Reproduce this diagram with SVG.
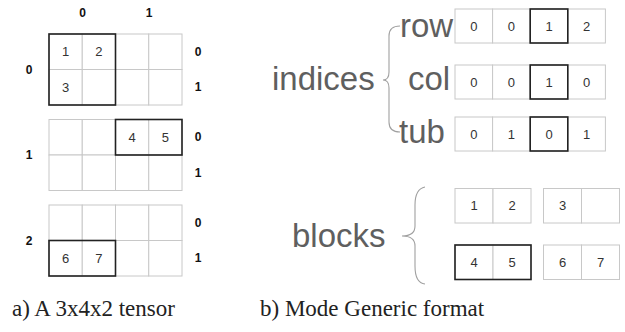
<svg xmlns="http://www.w3.org/2000/svg" width="625" height="332" viewBox="0 0 625 332">
<style>
.c{fill:#fff;stroke:#c8c8c8;stroke-width:1}
.b{fill:none;stroke:#222;stroke-width:1.6}
.d{font-family:"Liberation Sans",Arial,sans-serif;font-size:13px;fill:#333;text-anchor:middle;dominant-baseline:central}
.l{font-family:"Liberation Sans",Arial,sans-serif;font-size:12px;font-weight:bold;fill:#111;text-anchor:middle;dominant-baseline:central}
.t{font-family:"Liberation Sans",Arial,sans-serif;font-size:33px;fill:#5f5f5f}
.cap{font-family:"Liberation Serif","Times New Roman",serif;font-size:23px;fill:#222}
.br{fill:none;stroke:#a0a0a0;stroke-width:1.1}
</style>
<rect width="625" height="332" fill="#fff"/>
<defs>
<g id="grid">
<rect class="c" x="49" y="0" width="33.25" height="35.5"/>
<rect class="c" x="82.25" y="0" width="33.25" height="35.5"/>
<rect class="c" x="115.5" y="0" width="33.25" height="35.5"/>
<rect class="c" x="148.75" y="0" width="33.25" height="35.5"/>
<rect class="c" x="49" y="35.5" width="33.25" height="35.5"/>
<rect class="c" x="82.25" y="35.5" width="33.25" height="35.5"/>
<rect class="c" x="115.5" y="35.5" width="33.25" height="35.5"/>
<rect class="c" x="148.75" y="35.5" width="33.25" height="35.5"/>
</g>
<g id="arr">
<rect class="c" x="455" y="0" width="37.6" height="34"/>
<rect class="c" x="492.6" y="0" width="37.6" height="34"/>
<rect class="c" x="530.2" y="0" width="37.6" height="34"/>
<rect class="c" x="567.8" y="0" width="37.6" height="34"/>
<rect class="b" x="530.2" y="0" width="37.6" height="34"/>
</g>
<g id="blk">
<rect class="c" x="0" y="0" width="38" height="34.5"/>
<rect class="c" x="38" y="0" width="38" height="34.5"/>
</g>
</defs>

<g id="axis-labels">
<text class="l" x="82.5" y="13">0</text>
<text class="l" x="149" y="13">1</text>
</g>

<g id="slice0">
<use href="#grid" y="34"/>
<rect class="b" x="49" y="34" width="66.5" height="71"/>
<text class="d" x="65.6" y="51.75">1</text>
<text class="d" x="98.9" y="51.75">2</text>
<text class="d" x="65.6" y="87.25">3</text>
<text class="l" x="29" y="69.5">0</text>
<text class="l" x="198" y="51.75">0</text>
<text class="l" x="198" y="87.25">1</text>
</g>

<g id="slice1">
<use href="#grid" y="119.5"/>
<rect class="b" x="115.5" y="119.5" width="66.5" height="35.5"/>
<text class="d" x="132.1" y="137.25">4</text>
<text class="d" x="165.4" y="137.25">5</text>
<text class="l" x="29" y="155">1</text>
<text class="l" x="198" y="137.25">0</text>
<text class="l" x="198" y="172.75">1</text>
</g>

<g id="slice2">
<use href="#grid" y="205"/>
<rect class="b" x="49" y="240.5" width="66.5" height="35.5"/>
<text class="d" x="65.6" y="258.25">6</text>
<text class="d" x="98.9" y="258.25">7</text>
<text class="l" x="29" y="240.5">2</text>
<text class="l" x="198" y="222.75">0</text>
<text class="l" x="198" y="258.25">1</text>
</g>

<g id="indices">
<text class="t" x="272" y="90">indices</text>
</g>

<g id="row">
<text class="t" x="400" y="36.5">row</text>
<use href="#arr" y="9"/>
<text class="d" x="473.8" y="26">0</text>
<text class="d" x="511.4" y="26">0</text>
<text class="d" x="549" y="26">1</text>
<text class="d" x="586.6" y="26">2</text>
</g>

<g id="col">
<text class="t" x="408" y="90">col</text>
<use href="#arr" y="65"/>
<text class="d" x="473.8" y="82">0</text>
<text class="d" x="511.4" y="82">0</text>
<text class="d" x="549" y="82">1</text>
<text class="d" x="586.6" y="82">0</text>
</g>

<g id="tub">
<text class="t" x="399" y="142.5">tub</text>
<use href="#arr" y="117"/>
<text class="d" x="473.8" y="134">0</text>
<text class="d" x="511.4" y="134">1</text>
<text class="d" x="549" y="134">0</text>
<text class="d" x="586.6" y="134">1</text>
</g>

<g id="blocks">
<text class="t" x="292" y="247">blocks</text>
</g>

<g id="block0">
<use href="#blk" x="455" y="188.5"/>
<text class="d" x="474" y="205.75">1</text>
<text class="d" x="512" y="205.75">2</text>
</g>
<g id="block1">
<use href="#blk" x="543.5" y="188.5"/>
<text class="d" x="562.5" y="205.75">3</text>
</g>
<g id="block2">
<use href="#blk" x="455" y="245"/>
<rect class="b" x="455" y="245" width="76" height="34.5"/>
<text class="d" x="474" y="262.25">4</text>
<text class="d" x="512" y="262.25">5</text>
</g>
<g id="block3">
<use href="#blk" x="543.5" y="245"/>
<text class="d" x="562.5" y="262.25">6</text>
<text class="d" x="600.5" y="262.25">7</text>
</g>

<g id="connectors">
<path class="br" d="M400,26 Q389,26 389,36 L389,72 Q389,80 383,80 Q389,80 389,88 L389,122 Q389,132 400,132"/>
<path class="br" d="M425,187 Q415,189 415,205 L415,226 Q415,236 402,236 Q415,236 415,246 L415,266 Q415,283 425,284"/>
</g>

<g id="captions">
<text class="cap" x="12" y="316">a) A 3x4x2 tensor</text>
<text class="cap" x="260" y="316">b) Mode Generic format</text>
</g>
</svg>
